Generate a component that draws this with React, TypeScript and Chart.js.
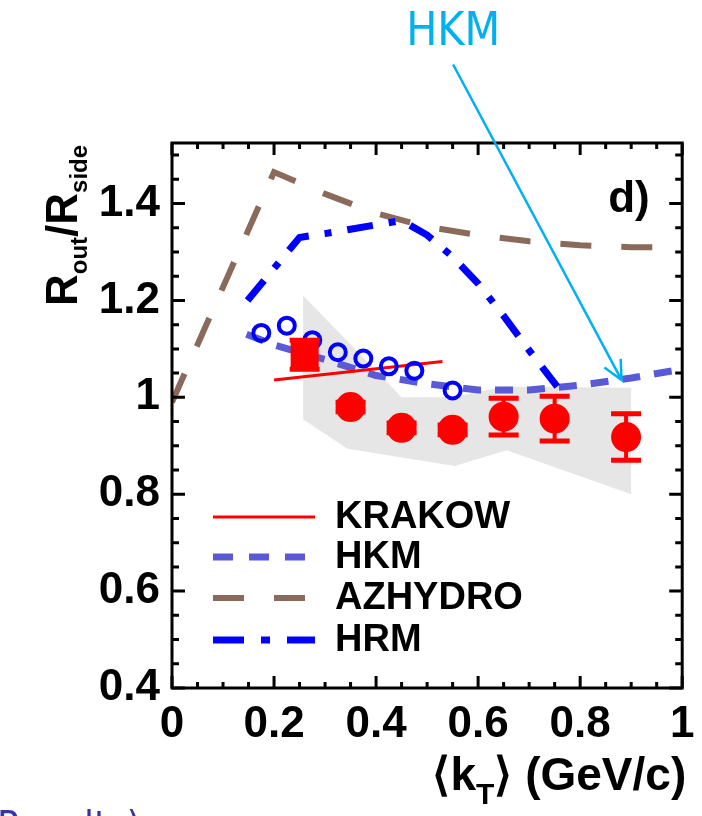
import React, { useEffect, useRef } from "react";
import { Chart, registerables } from "chart.js";

Chart.register(...registerables);

// ---------- axes ----------
const X_MIN = 0;
const X_MAX = 1;
const Y_MIN = 0.4;
const Y_MAX = 1.525;
const X_TICKS = [0, 0.2, 0.4, 0.6, 0.8, 1];
const X_TICK_LABELS = ["0", "0.2", "0.4", "0.6", "0.8", "1"];
const Y_TICKS = [0.4, 0.6, 0.8, 1.0, 1.2, 1.4];
const Y_TICK_LABELS = ["0.4", "0.6", "0.8", "1", "1.2", "1.4"];

// ---------- data (red points with stat. errors) ----------
const dataKT = [0.26, 0.35, 0.45, 0.55, 0.65, 0.75, 0.89];
const dataRatio = [1.088, 0.98, 0.937, 0.933, 0.96, 0.956, 0.918];
const dataErr = [0.03, 0.01, 0.01, 0.01, 0.038, 0.046, 0.048];

// ---------- systematic band ----------
const bandTopKT = [0.257, 0.45, 0.55, 0.65, 0.9];
const bandTop = [1.21, 1.0, 1.0, 1.022, 1.02];
const bandBottomKT = [0.257, 0.344, 0.554, 0.656, 0.9];
const bandBottom = [0.955, 0.894, 0.858, 0.891, 0.8];

// ---------- open blue circles ----------
const openKT = [0.175, 0.225, 0.275, 0.325, 0.375, 0.425, 0.475, 0.55];
const openRatio = [1.133, 1.148, 1.118, 1.093, 1.08, 1.064, 1.055, 1.014];

// ---------- model curves ----------
const krakowKT = [0.2, 0.53];
const krakowRatio = [1.036, 1.074];

const hkmKT = [0.146, 0.2, 0.3, 0.4, 0.5, 0.6, 0.7, 0.8, 0.9, 1.0];
const hkmRatio = [1.13, 1.108, 1.078, 1.045, 1.028, 1.015, 1.015, 1.025, 1.04, 1.058];

const azKT = [0, 0.2, 0.3, 0.4, 0.5, 0.6, 0.7, 0.8, 0.9, 1.0];
const azRatio = [0.99, 1.465, 1.42, 1.38, 1.352, 1.335, 1.322, 1.314, 1.31, 1.31];

const hrmKT = [0.148, 0.25, 0.3, 0.35, 0.4, 0.45, 0.5, 0.55, 0.6, 0.65, 0.7, 0.755];
const hrmRatio = [1.2, 1.33, 1.338, 1.347, 1.356, 1.365, 1.335, 1.29, 1.235, 1.168, 1.097, 1.022];

// ---------- legend / labels ----------
const LEGEND_LABELS = ["KRAKOW", "HKM", "AZHYDRO", "HRM"];
const PANEL_LABEL = "d)";
const ANNOT_TEXT = "HKM";
const ANNOT_FROM = [0.551, 1.687];
const ANNOT_TIP = [0.881, 1.036];
const ANNOT_TEXT_POS = [0.551, 1.728];
const FOOT_TEXT = "Results)";

const RED = "#ff0000";
const BLUE = "#0000ff";
const HKM_COLOR = "#5a5ad6";
const AZ_COLOR = "#8a6a5a";
const BAND_COLOR = "#e6e6e6";
const CYAN = "#00b0f0";
const FONT = "'Liberation Sans', Arial, Helvetica, sans-serif";

const pts = (xs: number[], ys: number[]) => xs.map((x, i) => ({ x, y: ys[i] }));

function drawSegments(
  ctx: CanvasRenderingContext2D,
  segs: { t: string; size: number; dy: number }[],
  x: number,
  y: number,
  measureOnly = false
) {
  let cx = x;
  for (const s of segs) {
    ctx.font = `bold ${s.size}px ${FONT}`;
    if (!measureOnly) ctx.fillText(s.t, cx, y + s.dy);
    cx += ctx.measureText(s.t).width;
  }
  return cx - x;
}

const rootPlugin = {
  id: "rootStyle",
  beforeDatasetDraw(chart: any, args: any) {
    const ds = chart.data.datasets[args.index];
    if (ds.label !== "data") return;
    const { ctx, scales } = chart;
    const xs = scales.x;
    const ys = scales.y;
    ctx.save();
    ctx.strokeStyle = RED;
    dataKT.forEach((k, i) => {
      const px = xs.getPixelForValue(k);
      const y1 = ys.getPixelForValue(dataRatio[i] - dataErr[i]);
      const y2 = ys.getPixelForValue(dataRatio[i] + dataErr[i]);
      ctx.lineWidth = 4;
      ctx.beginPath();
      ctx.moveTo(px, y1);
      ctx.lineTo(px, y2);
      ctx.stroke();
      ctx.lineWidth = 5;
      ctx.beginPath();
      ctx.moveTo(px - 15, y1);
      ctx.lineTo(px + 15, y1);
      ctx.moveTo(px - 15, y2);
      ctx.lineTo(px + 15, y2);
      ctx.stroke();
    });
    ctx.restore();
  },
  afterDraw(chart: any) {
    const { ctx, chartArea: a, scales } = chart;
    const xs = scales.x;
    const ys = scales.y;
    ctx.save();
    // frame
    ctx.strokeStyle = "#000";
    ctx.lineWidth = 3;
    ctx.strokeRect(a.left, a.top, a.right - a.left, a.bottom - a.top);
    // ticks
    ctx.lineWidth = 3;
    ctx.beginPath();
    for (let i = 0; i <= 20; i++) {
      const v = X_MIN + i * 0.05;
      const px = xs.getPixelForValue(v);
      const len = i % 4 === 0 ? 12 : 6;
      ctx.moveTo(px, a.bottom);
      ctx.lineTo(px, a.bottom - len);
      ctx.moveTo(px, a.top);
      ctx.lineTo(px, a.top + len);
    }
    for (let i = 0; i <= 22; i++) {
      const v = Y_MIN + i * 0.05;
      if (v > Y_MAX) break;
      const py = ys.getPixelForValue(v);
      const len = i % 4 === 0 ? 13 : 7;
      ctx.moveTo(a.left, py);
      ctx.lineTo(a.left + len, py);
      ctx.moveTo(a.right, py);
      ctx.lineTo(a.right - len, py);
    }
    ctx.stroke();

    // legend
    const rows = [a.top + 374, a.top + 414, a.top + 455, a.top + 497];
    LEGEND_LABELS.forEach((lab, i) => {
      const ds = chart.data.datasets.find((d: any) => d.label === lab);
      const y = rows[i];
      ctx.save();
      ctx.strokeStyle = ds.borderColor;
      ctx.lineWidth = ds.borderWidth;
      ctx.setLineDash(ds.legendDash || ds.borderDash || []);
      ctx.lineCap = "butt";
      ctx.beginPath();
      ctx.moveTo(a.left + 41, y);
      ctx.lineTo(a.left + 143, y);
      ctx.stroke();
      ctx.restore();
      ctx.fillStyle = "#000";
      ctx.font = `bold 38px ${FONT}`;
      ctx.textAlign = "left";
      ctx.textBaseline = "middle";
      ctx.fillText(lab, a.left + 163, y + 1);
    });

    // panel label
    ctx.fillStyle = "#000";
    ctx.font = `bold 44px ${FONT}`;
    ctx.textAlign = "left";
    ctx.textBaseline = "alphabetic";
    ctx.fillText(PANEL_LABEL, a.right - 74, a.top + 69);

    // y title (rotated)
    ctx.save();
    ctx.translate(77, 306);
    ctx.rotate(-Math.PI / 2);
    ctx.textAlign = "left";
    ctx.textBaseline = "alphabetic";
    drawSegments(
      ctx,
      [
        { t: "R", size: 44, dy: 0 },
        { t: "out", size: 24, dy: 10 },
        { t: "/R", size: 44, dy: 0 },
        { t: "side", size: 24, dy: 10 },
      ],
      0,
      0
    );
    ctx.restore();

    // x title
    const xsegs = [
      { t: "\u27E8k", size: 46, dy: 0 },
      { t: "T", size: 30, dy: 14 },
      { t: "\u27E9 (GeV/c)", size: 46, dy: 0 },
    ];
    ctx.textAlign = "left";
    ctx.textBaseline = "alphabetic";
    const w = drawSegments(ctx, xsegs, 0, 0, true);
    drawSegments(ctx, xsegs, a.right - w + 4, 790);

    // annotation arrow
    const fx = xs.getPixelForValue(ANNOT_FROM[0]);
    const fy = ys.getPixelForValue(ANNOT_FROM[1]);
    const tx = xs.getPixelForValue(ANNOT_TIP[0]);
    const ty = ys.getPixelForValue(ANNOT_TIP[1]);
    ctx.strokeStyle = CYAN;
    ctx.lineWidth = 2.5;
    ctx.beginPath();
    ctx.moveTo(fx, fy);
    ctx.lineTo(tx, ty);
    const ang = Math.atan2(fy - ty, fx - tx);
    const hl = 21;
    const ha = (26 * Math.PI) / 180;
    ctx.moveTo(tx + hl * Math.cos(ang + ha), ty + hl * Math.sin(ang + ha));
    ctx.lineTo(tx, ty);
    ctx.lineTo(tx + hl * Math.cos(ang - ha), ty + hl * Math.sin(ang - ha));
    ctx.stroke();
    ctx.fillStyle = CYAN;
    ctx.font = `46px 'DejaVu Sans Condensed', 'DejaVu Sans', sans-serif`;
    ctx.textAlign = "center";
    ctx.textBaseline = "alphabetic";
    ctx.fillText(
      ANNOT_TEXT,
      xs.getPixelForValue(ANNOT_TEXT_POS[0]),
      ys.getPixelForValue(ANNOT_TEXT_POS[1])
    );

    // cut-off footer text
    ctx.fillStyle = "#3a36a0";
    ctx.font = `40px 'DejaVu Sans Condensed', 'DejaVu Sans', sans-serif`;
    ctx.textAlign = "left";
    ctx.fillText(FOOT_TEXT, -3, 840);
    ctx.restore();
  },
};

export default function App() {
  const ref = useRef<HTMLCanvasElement | null>(null);
  useEffect(() => {
    if (!ref.current) return;
    const bandPoly = [
      ...pts(bandTopKT, bandTop),
      ...pts(bandBottomKT, bandBottom).reverse(),
    ];
    const chart = new Chart(ref.current, {
      type: "line",
      data: {
        datasets: [
          {
            label: "data",
            data: pts(dataKT, dataRatio),
            showLine: false,
            pointStyle: dataKT.map((_, i) => (i === 0 ? "rect" : "circle")),
            pointRadius: dataKT.map((_, i) => (i === 0 ? 19.8 : 15)),
            pointBackgroundColor: RED,
            pointBorderColor: RED,
            pointBorderWidth: 0,
            order: 1,
          } as any,
          {
            label: "open",
            data: pts(openKT, openRatio),
            showLine: false,
            pointStyle: "circle",
            pointRadius: 8,
            pointBorderWidth: 4,
            pointBorderColor: BLUE,
            pointBackgroundColor: "rgba(0,0,0,0)",
            order: 2,
          } as any,
          {
            label: "KRAKOW",
            data: pts(krakowKT, krakowRatio),
            borderColor: RED,
            borderWidth: 3,
            pointRadius: 0,
            tension: 0,
            order: 3,
          },
          {
            label: "HRM",
            data: pts(hrmKT, hrmRatio),
            borderColor: BLUE,
            borderWidth: 7,
            borderDash: [26, 16, 7, 16],
            legendDash: [31, 17, 9, 17],
            pointRadius: 0,
            tension: 0,
            order: 4,
          } as any,
          {
            label: "HKM",
            data: pts(hkmKT, hkmRatio),
            borderColor: HKM_COLOR,
            borderWidth: 7,
            borderDash: [18, 14],
            legendDash: [20, 16],
            pointRadius: 0,
            tension: 0,
            order: 5,
          } as any,
          {
            label: "AZHYDRO",
            data: pts(azKT, azRatio),
            borderColor: AZ_COLOR,
            borderWidth: 6,
            borderDash: [31, 30],
            pointRadius: 0,
            tension: 0,
            order: 6,
          },
          {
            label: "band",
            data: bandPoly,
            borderWidth: 0,
            borderColor: "rgba(0,0,0,0)",
            backgroundColor: BAND_COLOR,
            fill: "shape",
            pointRadius: 0,
            tension: 0,
            order: 10,
          } as any,
        ],
      },
      options: {
        responsive: false,
        animation: false,
        devicePixelRatio: 1,
        layout: { padding: { left: 0, right: 14, top: 143, bottom: 0 } },
        plugins: { legend: { display: false }, tooltip: { enabled: false } },
        scales: {
          x: {
            type: "linear",
            min: X_MIN,
            max: X_MAX,
            grid: { display: false },
            border: { display: false },
            afterBuildTicks: (s: any) => {
              s.ticks = X_TICKS.map((v) => ({ value: v }));
            },
            afterFit: (s: any) => {
              s.height = 128;
            },
            ticks: {
              autoSkip: false,
              maxRotation: 0,
              padding: 2,
              color: "#000",
              font: { family: FONT, size: 44, weight: "bold", lineHeight: 1.2 },
              callback: (_v: any, i: number) => X_TICK_LABELS[i],
            },
          },
          y: {
            type: "linear",
            min: Y_MIN,
            max: Y_MAX,
            grid: { display: false },
            border: { display: false },
            afterBuildTicks: (s: any) => {
              s.ticks = Y_TICKS.map((v) => ({ value: v }));
            },
            afterFit: (s: any) => {
              s.width = 172;
            },
            ticks: {
              autoSkip: false,
              padding: 4,
              color: "#000",
              font: { family: FONT, size: 44, weight: "bold", lineHeight: 1.2 },
              callback: (_v: any, i: number) => Y_TICK_LABELS[i],
            },
          },
        },
      } as any,
      plugins: [rootPlugin],
    });
    return () => chart.destroy();
  }, []);
  return (
    <div style={{ position: "fixed", left: 0, top: 0, width: 702, height: 816, background: "#fff" }}>
      <canvas ref={ref} width={702} height={816} />
    </div>
  );
}
